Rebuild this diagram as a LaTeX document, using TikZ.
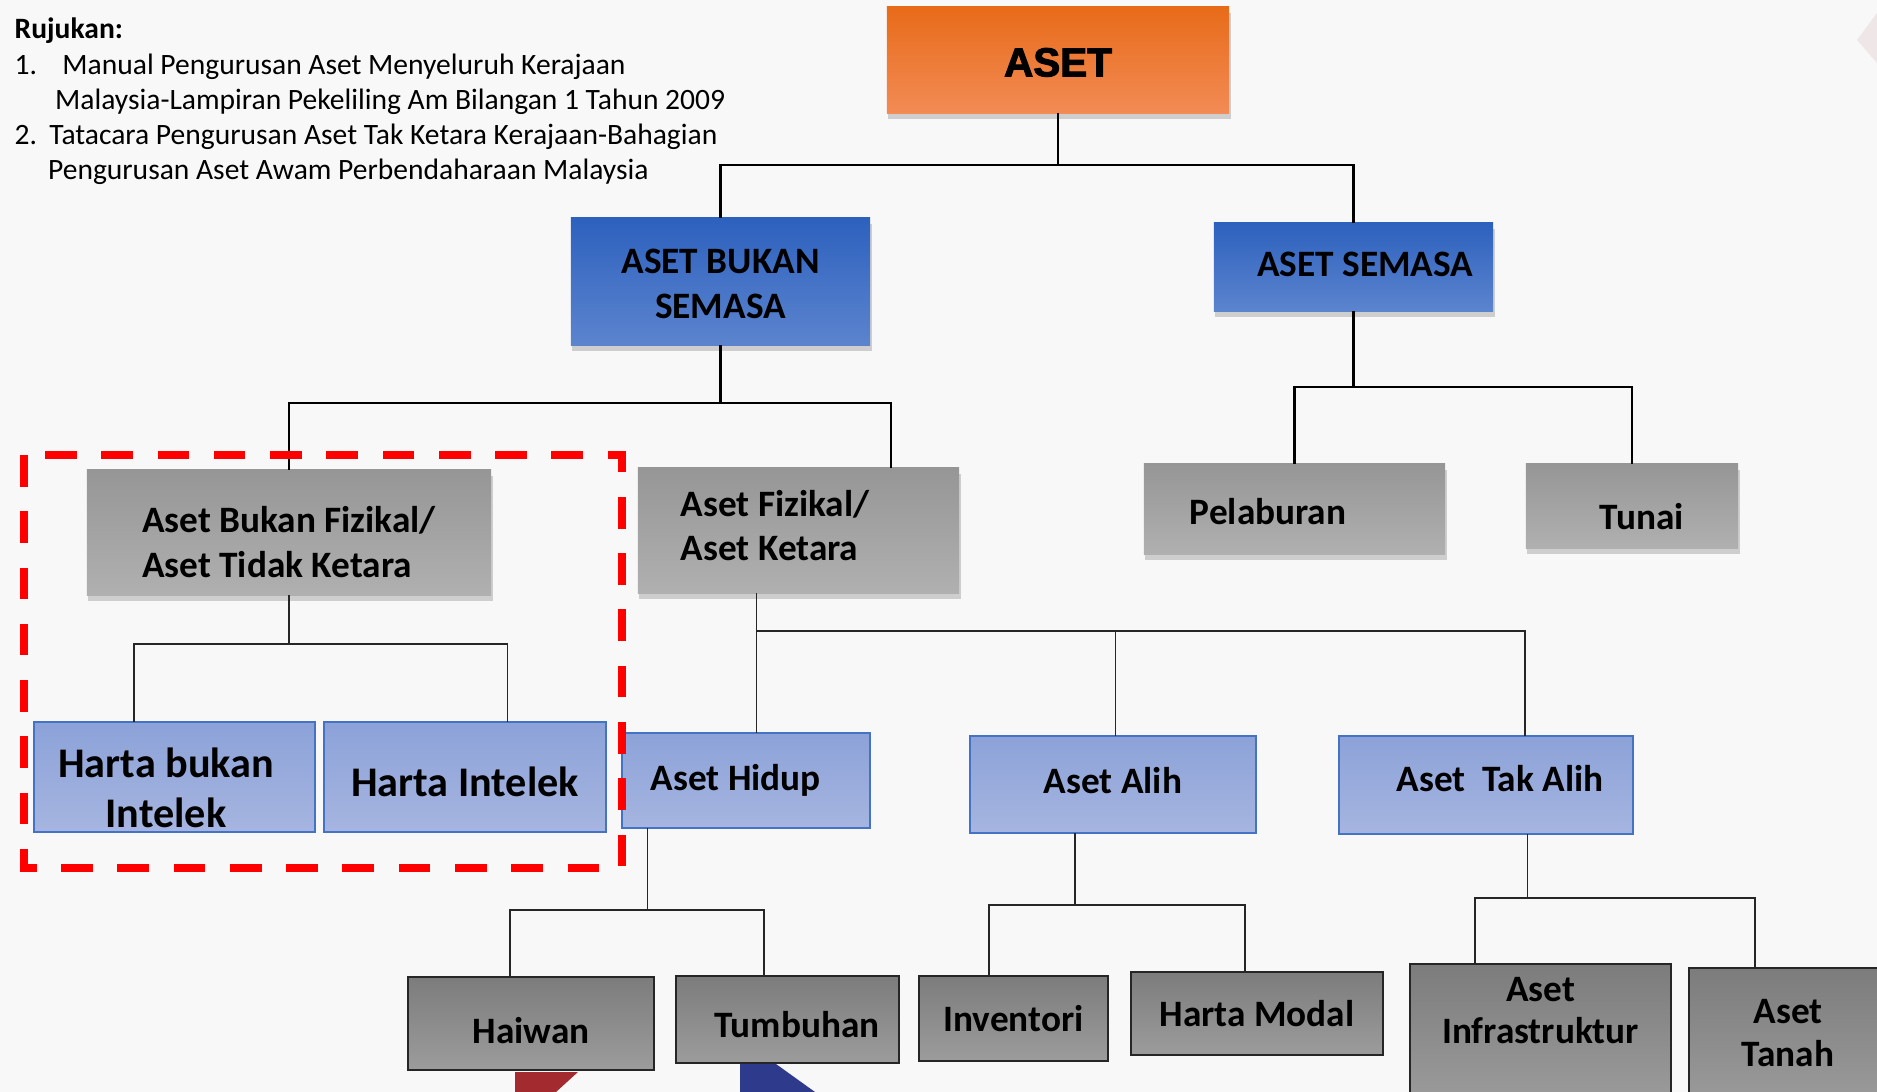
\documentclass[tikz,border=0pt]{standalone}
\usepackage{fontspec}
\setmainfont{Carlito}
\newfontfamily\heavyfont[FakeBold=2.5]{Liberation Sans}
\usepackage{tikz}
\usetikzlibrary{positioning}
\usetikzlibrary{shadows,calc}

\definecolor{bgcol}{HTML}{F8F8F9}
\definecolor{orangetop}{HTML}{E86B19}
\definecolor{orangebot}{HTML}{F28B55}
\definecolor{bluetop}{HTML}{2D61BE}
\definecolor{bluebot}{HTML}{5C84CE}
\definecolor{greytop}{HTML}{969696}
\definecolor{greybot}{HTML}{B0B0B0}
\definecolor{lighttop}{HTML}{8CA2D8}
\definecolor{lightbot}{HTML}{A6B5E0}
\definecolor{lightedge}{HTML}{4472C4}
\definecolor{darktop}{HTML}{7C7C7C}
\definecolor{darkbot}{HTML}{9C9C9C}
\definecolor{wedgered}{HTML}{A32A2E}
\definecolor{wedgeblue}{HTML}{2E3A8C}
\definecolor{cornerpink}{HTML}{EFE6E8}

% move a line of box text up or down without changing the box
\newcommand{\txtnudge}[2]{\raisebox{#1}[\height][\depth]{#2}}

\begin{document}
\begin{tikzpicture}[x=0.01cm, y=-0.01cm,
    box/.style={rectangle, inner sep=0pt, outer sep=0pt, align=center,
      font=\bfseries\fontsize{10.6}{12.6}\selectfont},
    shadowed/.style={drop shadow={shadow xshift=0.4pt, shadow yshift=-1.6pt, opacity=0.35}},
    orangebox/.style={box, shadowed, top color=orangetop, bottom color=orangebot},
    bluebox/.style={box, shadowed, top color=bluetop, bottom color=bluebot},
    greybox/.style={box, shadowed, top color=greytop, bottom color=greybot},
    lightbox/.style={box, top color=lighttop, bottom color=lightbot, draw=lightedge, line width=0.5pt},
    darkbox/.style={box, top color=darktop, bottom color=darkbot, draw=black!85, line width=0.6pt},
    boxtext/.style={inner sep=0pt, align=center, font=\bfseries\fontsize{10.6}{12.2}\selectfont},
    conn/.style={draw=black, line width=0.8pt},
    thinconn/.style={draw=black!85, line width=0.45pt}]

        % page and background
        \useasboundingbox (0,0) rectangle (1877,1092);
        \clip (0,0) rectangle (1877,1092);
        \fill[bgcol] (0,0) rectangle (1877,1092);
        \fill[wedgered] (515,1072) -- (578,1072) -- (556,1092) -- (515,1092) -- cycle;
        \fill[wedgeblue] (740,1064) -- (776,1064) -- (815,1092) -- (740,1092) -- cycle;
        \fill[cornerpink] (1877,13) -- (1857,40) -- (1877,63) -- cycle;

        % references
        \node[anchor=north west, align=left, inner sep=0pt, font=\fontsize{8.4}{10}\selectfont] (rujukan) at (14,17.5)
          {\textbf{Rujukan:}\\
           1.\hspace*{7.2pt}Manual Pengurusan Aset Menyeluruh Kerajaan\\
           \hspace*{11.5pt}Malaysia-Lampiran Pekeliling Am Bilangan 1 Tahun 2009\\
           2.\hspace*{3.5pt}Tatacara Pengurusan Aset Tak Ketara Kerajaan-Bahagian\\
           \hspace*{9.5pt}Pengurusan Aset Awam Perbendaharaan Malaysia};

        % draw the boxes
        \node[orangebox, minimum width=3.42cm, minimum height=1.06cm, font=\heavyfont\bfseries\fontsize{11.5}{13}\selectfont] (aset) at (1058,60) {\txtnudge{-0.7pt}{ASET}};

        \node[bluebox, minimum width=2.99cm, minimum height=1.27cm] (bukan_semasa) at (720.5,281.5) {\txtnudge{-0.7pt}{ASET BUKAN}\\\txtnudge{-0.7pt}{SEMASA}};
        \node[bluebox, minimum width=2.79cm, minimum height=0.88cm, align=flush right, text width=2.39cm] (semasa) at (1353.5,267) {\txtnudge{0.6pt}{ASET SEMASA}};

        \node[greybox, minimum width=4.04cm, minimum height=1.25cm, align=left] (bukan_fizikal) at (289,532.5) {\txtnudge{-2.7pt}{Aset Bukan Fizikal/}\\\txtnudge{-2.7pt}{Aset Tidak Ketara}};
        \node[greybox, minimum width=3.21cm, minimum height=1.25cm, align=flush left, text width=2.35cm] (fizikal) at (798.5,530.5) {\txtnudge{1.4pt}{Aset Fizikal/}\\\txtnudge{1.4pt}{Aset Ketara}};
        \node[greybox, minimum width=3.01cm, minimum height=0.90cm, align=flush left, text width=2.09cm] (pelaburan) at (1294.5,509) {\txtnudge{-0.6pt}{Pelaburan}};
        \node[greybox, minimum width=2.12cm, minimum height=0.84cm] (tunai) at (1632,506) {\hspace*{5.4pt}\txtnudge{-3pt}{Tunai}};

        \node[lightbox, minimum width=2.81cm, minimum height=1.10cm, font=\bfseries\fontsize{12}{14.3}\selectfont] (bukan_intelek) at (174.5,777) {\txtnudge{-3pt}{Harta bukan}\hspace*{4.8pt}\\\txtnudge{-3pt}{Intelek}\hspace*{4.8pt}};
        \node[lightbox, minimum width=2.82cm, minimum height=1.10cm, font=\bfseries\fontsize{12}{14.3}\selectfont] (intelek) at (465,777) {\txtnudge{-1.4pt}{Harta Intelek}};
        \node[lightbox, minimum width=2.48cm, minimum height=0.95cm, align=flush left, text width=1.90cm] (hidup) at (746,780.5) {Aset Hidup};
        \node[lightbox, minimum width=2.86cm, minimum height=0.97cm] (alih) at (1113,784.5) {\txtnudge{1pt}{Aset Alih}};
        \node[lightbox, minimum width=2.94cm, minimum height=0.98cm] (tak_alih) at (1486,785) {\hspace*{8pt}\txtnudge{1.7pt}{Aset~~Tak Alih}};

        \node[darkbox, minimum width=2.46cm, minimum height=0.93cm] (haiwan) at (531,1023.5) {\txtnudge{-2pt}{Haiwan}};
        \node[darkbox, minimum width=2.23cm, minimum height=0.87cm] (tumbuhan) at (787.5,1019.5) {\hspace*{5.4pt}\txtnudge{-1.4pt}{Tumbuhan}};
        \node[darkbox, minimum width=1.89cm, minimum height=0.85cm] (inventori) at (1013.5,1018.5) {Inventori};
        \node[darkbox, minimum width=2.52cm, minimum height=0.83cm] (modal) at (1257,1013.5) {Harta Modal};
        \node[darkbox, minimum width=2.61cm, minimum height=1.40cm, anchor=north] (infra) at (1540.5,964) {};
        \node[boxtext] (infra_text) at (1540.5,1010.5) {Aset\\Infrastruktur};
        \node[darkbox, minimum width=2.20cm, minimum height=1.40cm, anchor=north west] (tanah) at (1689,968) {};
        \node[boxtext] (tanah_text) at (1788,1033) {Aset\\Tanah};

        % draw the lines
        \coordinate (bus_top) at (1058,165);
        \draw[conn] (aset.south) -- (bus_top);
        \draw[conn] (bukan_semasa.north) |- (semasa.north |- bus_top) -- (semasa.north);

        \coordinate (bus_bs) at (891,403);
        \draw[conn] (bukan_semasa.south) -- (bukan_semasa.south |- bus_bs);
        \draw[conn] (bukan_fizikal.north) |- (bus_bs) -- (bus_bs |- fizikal.north);

        \coordinate (bus_s) at (1353.5,387);
        \draw[conn] (semasa.south) -- (bus_s);
        \draw[conn] (pelaburan.north) |- (tunai.north |- bus_s) -- (tunai.north);

        \coordinate (bus_bf_l) at (134,644);
        \coordinate (bus_bf_r) at (507.5,644);
        \draw[thinconn] (bukan_fizikal.south) -- (bukan_fizikal.south |- bus_bf_l);
        \draw[thinconn] (bus_bf_l |- bukan_intelek.north) -- (bus_bf_l) -- (bus_bf_r) -- (bus_bf_r |- intelek.north);

        \coordinate (bus_f_l) at (756.5,631);
        \coordinate (bus_f_m) at (1115.6,631);
        \coordinate (bus_f_r) at (1525,631);
        \draw[thinconn] (bus_f_l |- fizikal.south) -- (bus_f_l |- hidup.north);
        \draw[thinconn] (bus_f_l) -- (bus_f_r) -- (bus_f_r |- tak_alih.north);
        \draw[thinconn] (bus_f_m) -- (bus_f_m |- alih.north);

        \coordinate (bus_h_l) at (510,910);
        \coordinate (bus_h_r) at (763.7,910);
        \draw[thinconn] (647.6,0 |- hidup.south) -- (647.6,910);
        \draw[thinconn] (bus_h_l |- haiwan.north) -- (bus_h_l) -- (bus_h_r) -- (bus_h_r |- tumbuhan.north);

        \coordinate (bus_a_l) at (988.7,905);
        \coordinate (bus_a_r) at (1245,905);
        \draw[thinconn] (1075,0 |- alih.south) -- (1075,905);
        \draw[thinconn] (bus_a_l |- inventori.north) -- (bus_a_l) -- (bus_a_r) -- (bus_a_r |- modal.north);

        \coordinate (bus_t_l) at (1474.7,898);
        \coordinate (bus_t_r) at (1754.8,898);
        \draw[thinconn] (1527.4,0 |- tak_alih.south) -- (1527.4,898);
        \draw[thinconn] (bus_t_l |- infra.north) -- (bus_t_l) -- (bus_t_r) -- (bus_t_r |- tanah.north);

        % draw the red frame
        \draw[red, line width=2pt, dash pattern=on 9pt off 7pt] (24,455) rectangle (622,868);

\end{tikzpicture}
\end{document}
